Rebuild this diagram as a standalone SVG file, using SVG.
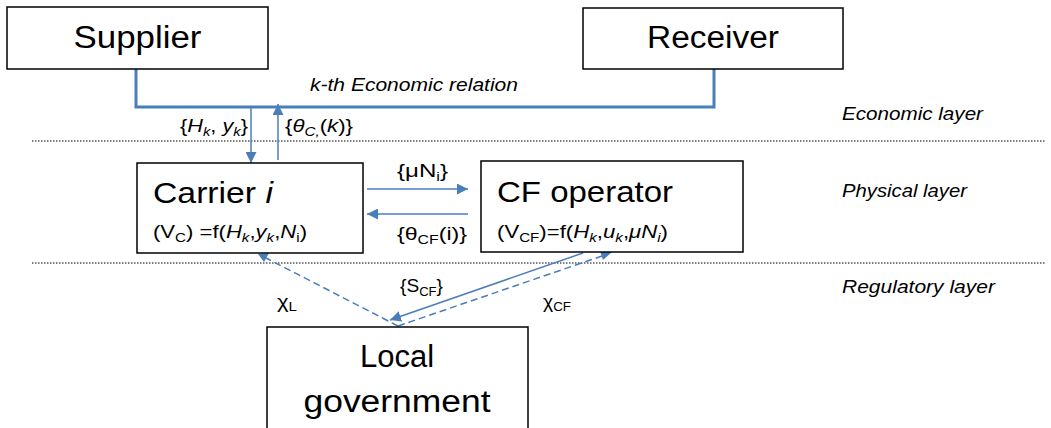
<svg xmlns="http://www.w3.org/2000/svg" width="1051" height="428" viewBox="0 0 1051 428">
<style>
text{font-family:"Liberation Sans",Arial,sans-serif;fill:#000}
.box{fill:#fff;stroke:#000;stroke-width:1.5}
.big{font-size:31px}
.mid{font-size:30px}
.sm{font-size:19px}
.it{font-style:italic}
.sub{font-size:13px}
.dot{stroke:#000;stroke-width:1.2;stroke-dasharray:1.5,1.5;fill:none}
.thick{stroke:#4a7ebb;stroke-width:3;fill:none}
.arr{stroke:#4a7ebb;stroke-width:1.5;fill:none;marker-end:url(#ah)}
.dash{stroke:#4a7ebb;stroke-width:1.5;fill:none;stroke-dasharray:7,4}
.lay{font-size:19px;font-style:italic}
</style>
<defs>
<marker id="ah" viewBox="0 0 10 10" refX="10" refY="5" markerWidth="11" markerHeight="11" markerUnits="userSpaceOnUse" orient="auto">
<path d="M0,0 L10,5 L0,10 z" fill="#4a7ebb"/>
</marker>
</defs>
<rect width="1051" height="428" fill="#fff"/>
<g id="layers">
<line class="dot" x1="32" y1="141" x2="1045" y2="141"/>
<line class="dot" x1="32" y1="263" x2="1045" y2="263"/>
<text class="lay" x="842" y="120" textLength="141" lengthAdjust="spacingAndGlyphs">Economic layer</text>
<text class="lay" x="842" y="197" textLength="125" lengthAdjust="spacingAndGlyphs">Physical layer</text>
<text class="lay" x="842" y="293" textLength="153" lengthAdjust="spacingAndGlyphs">Regulatory layer</text>
</g>
<g id="connectors">
<polyline class="thick" points="136,69 136,107 714,107 714,69"/>
<text class="sm it" x="310" y="91" textLength="208" lengthAdjust="spacingAndGlyphs">k-th Economic relation</text>
<line class="arr" x1="251" y1="108" x2="251" y2="163"/>
<line class="arr" x1="278" y1="160" x2="278" y2="104"/>
<text class="sm" x="180" y="132" textLength="68" lengthAdjust="spacingAndGlyphs">{<tspan class="it">H</tspan><tspan class="sub it" dy="4">k</tspan><tspan dy="-4">, </tspan><tspan class="it">y</tspan><tspan class="sub it" dy="4">k</tspan><tspan dy="-4">}</tspan></text>
<text class="sm" x="285" y="132" textLength="68" lengthAdjust="spacingAndGlyphs">{<tspan class="it">θ</tspan><tspan class="sub it" dy="4">C,</tspan><tspan dy="-4">(</tspan><tspan class="it">k</tspan>)}</text>
<line class="arr" x1="367" y1="189" x2="468" y2="189"/>
<line class="arr" x1="468" y1="214" x2="367" y2="214"/>
<text class="sm" x="397" y="177" textLength="51" lengthAdjust="spacingAndGlyphs">{μN<tspan class="sub" dy="4">i</tspan><tspan dy="-4">}</tspan></text>
<text class="sm" x="397" y="240" textLength="70" lengthAdjust="spacingAndGlyphs">{θ<tspan class="sub" dy="4">CF</tspan><tspan dy="-4">(i)}</tspan></text>
<line class="dash" x1="398" y1="326" x2="266" y2="258"/>
<path d="M258,254 L269,253 L264,262 z" fill="#4a7ebb"/>
<line class="arr" x1="583" y1="253" x2="390" y2="320"/>
<line class="dash" x1="398" y1="326" x2="602" y2="256"/>
<path d="M612,252 L603,260 L600,251 z" fill="#4a7ebb"/>
<text class="sm" x="277" y="308" textLength="20" lengthAdjust="spacingAndGlyphs">χ<tspan class="sub" dy="3">L</tspan></text>
<text class="sm" x="400" y="292" textLength="43" lengthAdjust="spacingAndGlyphs">{S<tspan class="sub" dy="4">CF</tspan><tspan dy="-4">}</tspan></text>
<text class="sm" x="543" y="308" textLength="28" lengthAdjust="spacingAndGlyphs">χ<tspan class="sub" dy="3">CF</tspan></text>
</g>
<g id="supplier">
<rect class="box" x="7" y="7" width="261" height="62"/>
<text class="big" x="137.5" y="48" text-anchor="middle" textLength="128" lengthAdjust="spacingAndGlyphs">Supplier</text>
</g>
<g id="receiver">
<rect class="box" x="583" y="8" width="260" height="61"/>
<text class="big" x="713" y="48" text-anchor="middle" textLength="132" lengthAdjust="spacingAndGlyphs">Receiver</text>
</g>
<g id="carrier">
<rect class="box" x="137" y="163" width="226" height="90"/>
<text class="mid" x="153" y="203" textLength="120" lengthAdjust="spacingAndGlyphs">Carrier <tspan class="it">i</tspan></text>
<text class="sm" x="153" y="238" textLength="154" lengthAdjust="spacingAndGlyphs">(V<tspan class="sub" dy="4">C</tspan><tspan dy="-4">) =f(</tspan><tspan class="it">H</tspan><tspan class="sub it" dy="4">k</tspan><tspan dy="-4">,</tspan><tspan class="it">y</tspan><tspan class="sub it" dy="4">k</tspan><tspan dy="-4">,</tspan><tspan class="it">N</tspan><tspan class="sub" dy="4">i</tspan><tspan dy="-4">)</tspan></text>
</g>
<g id="cf-operator">
<rect class="box" x="481" y="161" width="262" height="91"/>
<text class="mid" x="497" y="202" textLength="176" lengthAdjust="spacingAndGlyphs">CF operator</text>
<text class="sm" x="497" y="238" textLength="171" lengthAdjust="spacingAndGlyphs">(V<tspan class="sub" dy="4">CF</tspan><tspan dy="-4">)=f(</tspan><tspan class="it">H</tspan><tspan class="sub it" dy="4">k</tspan><tspan dy="-4">,</tspan><tspan class="it">u</tspan><tspan class="sub it" dy="4">k</tspan><tspan dy="-4">,</tspan><tspan class="it">μN</tspan><tspan class="sub it" dy="4">i</tspan><tspan dy="-4">)</tspan></text>
</g>
<g id="local-government">
<rect class="box" x="267" y="327" width="261" height="110"/>
<text class="big" x="397" y="367" text-anchor="middle">Local</text>
<text class="big" x="397" y="412" text-anchor="middle" textLength="187" lengthAdjust="spacingAndGlyphs">government</text>
</g>
</svg>
